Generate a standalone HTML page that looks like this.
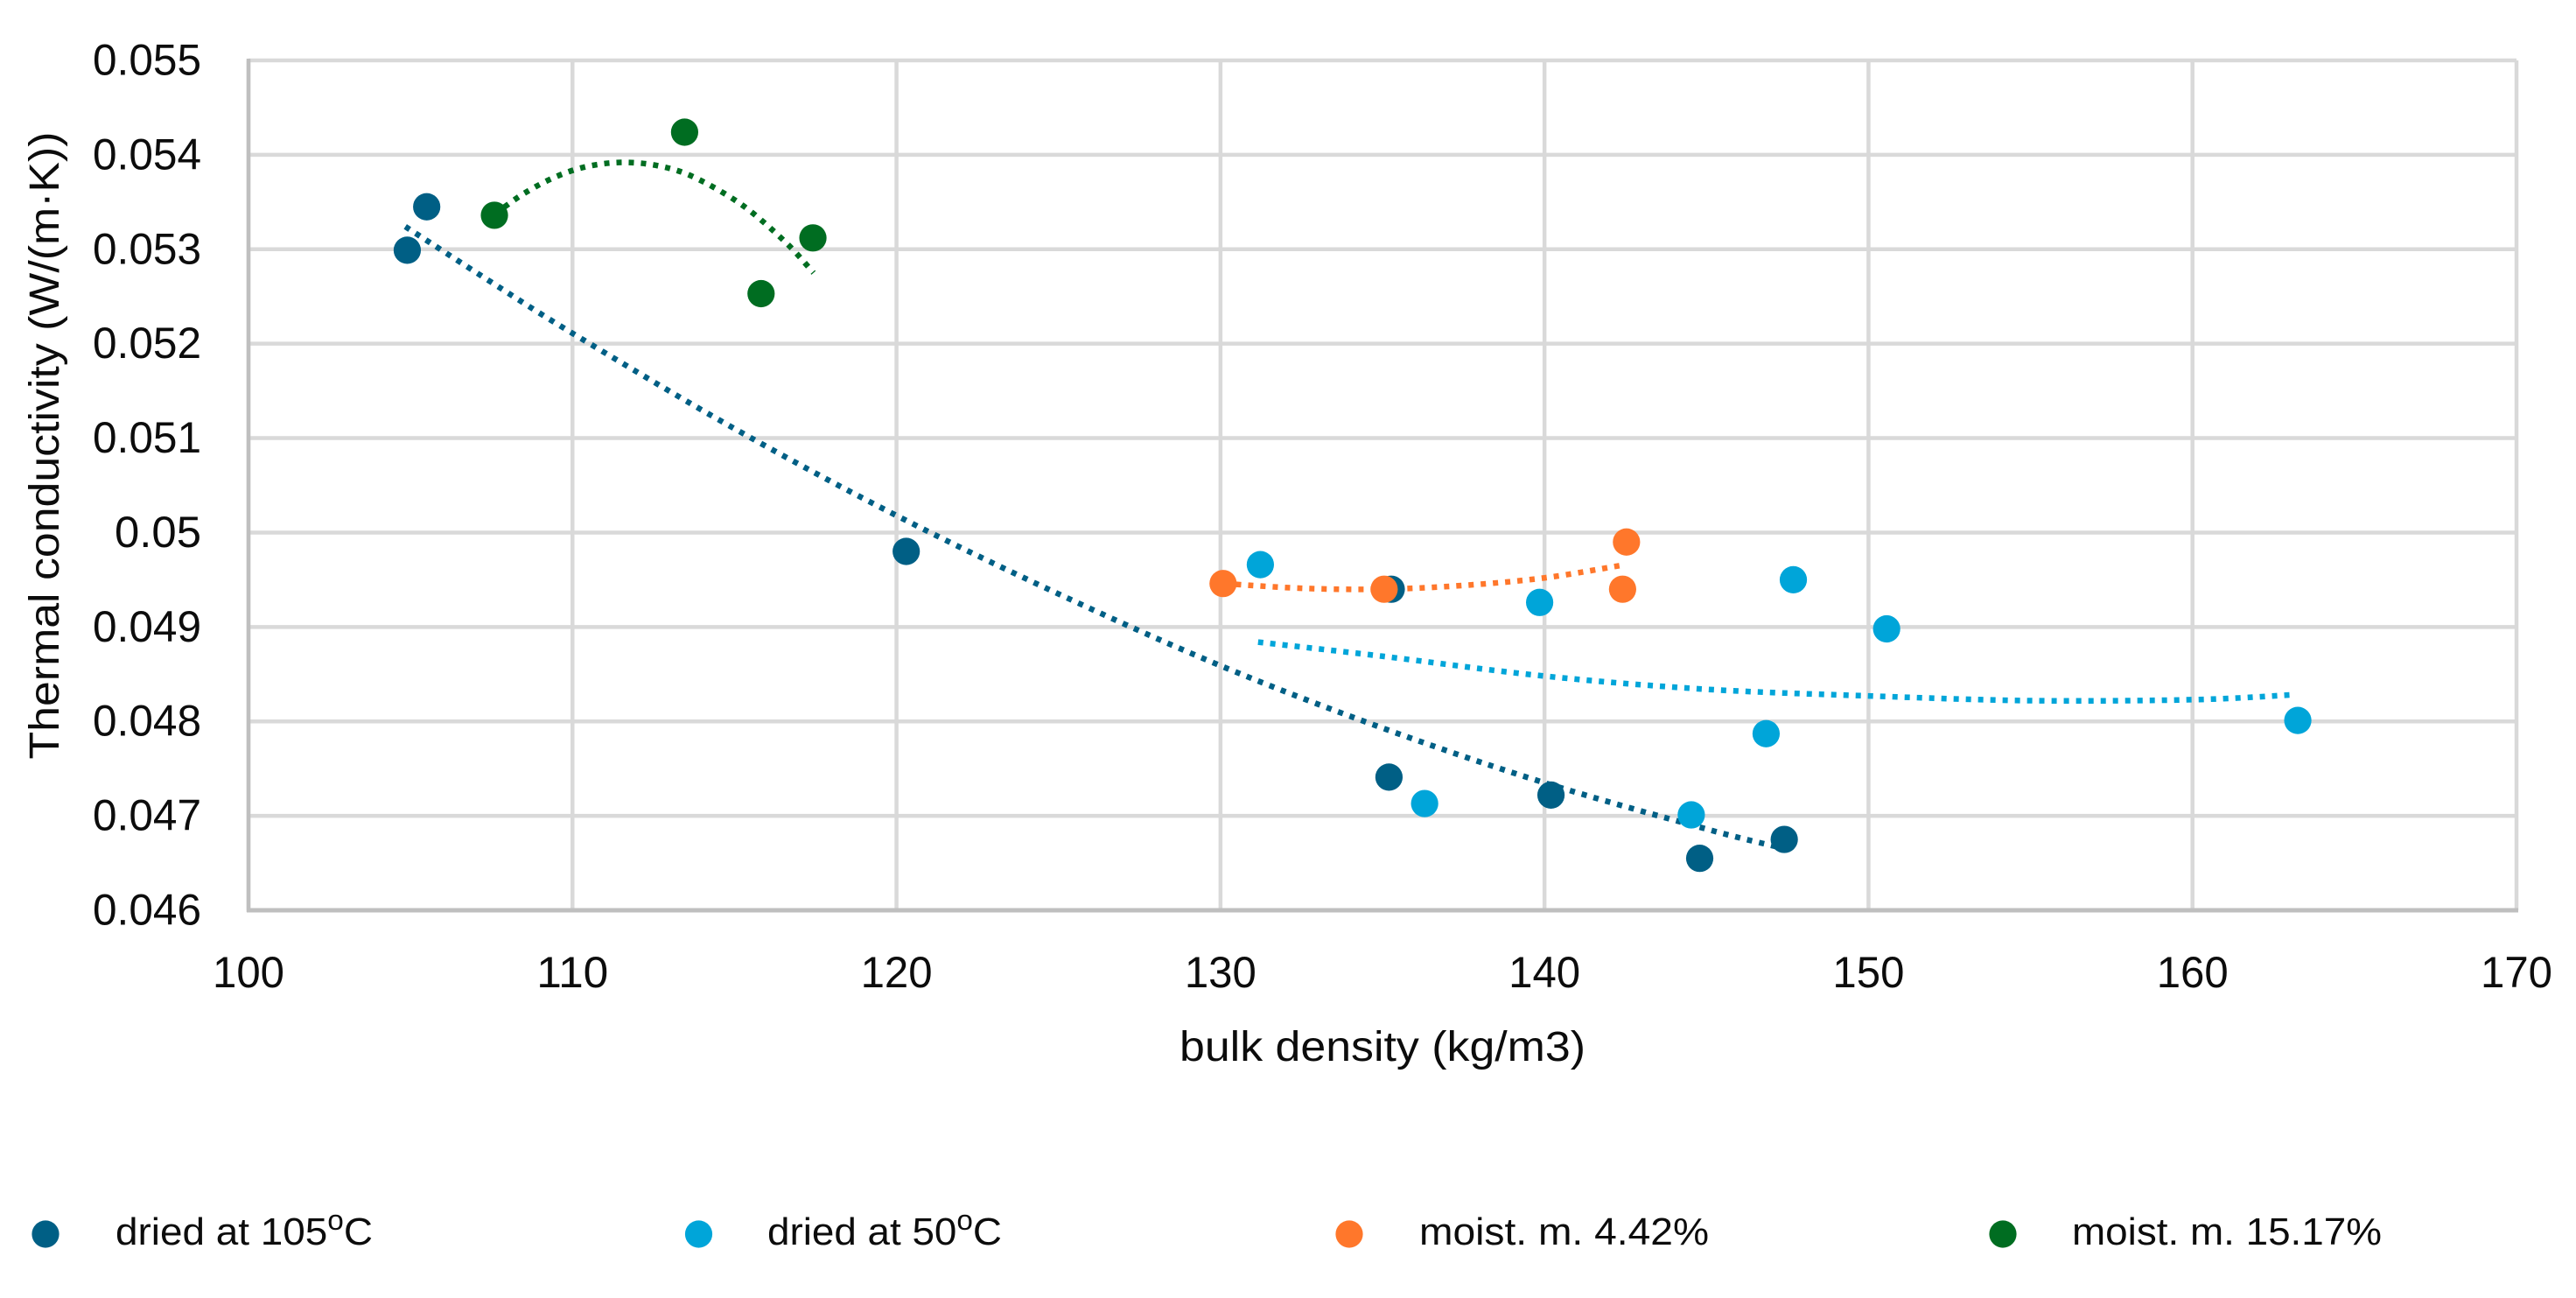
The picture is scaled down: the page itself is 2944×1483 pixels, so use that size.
<!DOCTYPE html>
<html lang="en">
<head>
<meta charset="utf-8">
<title>Thermal conductivity vs bulk density</title>
<style>
html,body{margin:0;padding:0;background:#fff;width:2944px;height:1483px;overflow:hidden}
svg{display:block}
text{font-family:"Liberation Sans",sans-serif;fill:#0c0c0c}
</style>
</head>
<body>
<svg id="chart" xmlns="http://www.w3.org/2000/svg" width="2944" height="1483" viewBox="0 0 2944 1483">
  <rect x="0" y="0" width="2944" height="1483" fill="#ffffff"/>
  <g id="grid"></g>
  <g id="axes"></g>
  <g id="trends"></g>
  <g id="points"></g>
  <text x="1580" y="1212" font-size="48" text-anchor="middle" textLength="464" lengthAdjust="spacingAndGlyphs">bulk density (kg/m3)</text>
  <text transform="translate(67,509) rotate(-90)" font-size="48" text-anchor="middle" textLength="717" lengthAdjust="spacingAndGlyphs">Thermal conductivity (W/(m·K))</text>
  <g>
    <g>
      <circle cx="52" cy="1410" r="15.6" fill="#005F85"/>
      <text x="132" y="1422" font-size="44" textLength="294" lengthAdjust="spacingAndGlyphs">dried at 105<tspan font-size="32" dy="-17">o</tspan><tspan dy="17">C</tspan></text>
    </g>
    <g>
      <circle cx="798.5" cy="1410" r="15.6" fill="#00A5D9"/>
      <text x="877" y="1422" font-size="44" textLength="268" lengthAdjust="spacingAndGlyphs">dried at 50<tspan font-size="32" dy="-17">o</tspan><tspan dy="17">C</tspan></text>
    </g>
    <g>
      <circle cx="1542" cy="1410" r="15.6" fill="#FF772B"/>
      <text x="1622" y="1422" font-size="44" textLength="331" lengthAdjust="spacingAndGlyphs">moist. m. 4.42%</text>
    </g>
    <g>
      <circle cx="2289" cy="1410" r="15.6" fill="#006D21"/>
      <text x="2368" y="1422" font-size="44" textLength="354" lengthAdjust="spacingAndGlyphs">moist. m. 15.17%</text>
    </g>
  </g>
</svg>
<script>
const xTicks = [100, 110, 120, 130, 140, 150, 160, 170];
const yTicks = [0.046, 0.047, 0.048, 0.049, 0.05, 0.051, 0.052, 0.053, 0.054, 0.055];
const yTickLabels = ['0.046', '0.047', '0.048', '0.049', '0.05', '0.051', '0.052', '0.053', '0.054', '0.055'];

const dried105X = [104.9, 105.5, 120.3, 135.27, 135.2, 140.2, 144.79, 147.4];
const dried105Y = [0.05299, 0.05345, 0.04980, 0.04940, 0.04741, 0.04722, 0.04655, 0.04675];
const dried50X = [131.23, 139.85, 147.68, 150.56, 146.84, 136.3, 144.53, 163.25];
const dried50Y = [0.04966, 0.04926, 0.04950, 0.04898, 0.04787, 0.04713, 0.04701, 0.04801];
const moist4X = [130.08, 135.05, 142.53, 142.41];
const moist4Y = [0.04946, 0.04940, 0.04990, 0.04940];
const moist15X = [107.59, 113.46, 115.82, 117.42];
const moist15Y = [0.05336, 0.05424, 0.05253, 0.05312];

const trend105X = [104.84, 107.5, 110, 115, 120, 125, 130, 135, 140, 145, 147.2];
const trend105Y = [0.05324, 0.05265, 0.05211, 0.0511, 0.05018, 0.04935, 0.04859, 0.04793, 0.04735, 0.04686, 0.04667];
const trend50X = [131.16, 135, 140, 145, 150, 155, 160, 163];
const trend50Y = [0.04884, 0.04869, 0.04848, 0.04834, 0.04827, 0.04822, 0.04823, 0.04828];
const trend4X = [130.1, 132.5, 135, 137.5, 140, 142.5];
const trend4Y = [0.04946, 0.04941, 0.0494, 0.04944, 0.04952, 0.04966];
const trend15X = [107.59, 108.5, 109.5, 110.5, 111.6, 112.7, 113.77, 115.23, 116.56, 117.44];
const trend15Y = [0.05337, 0.05359, 0.05377, 0.05388, 0.05392, 0.05388, 0.05376, 0.05347, 0.05308, 0.05275];

const NS = 'http://www.w3.org/2000/svg';
const xMin = 100, xMax = 170, yMin = 0.046, yMax = 0.055;
const left = 284, right = 2876, top_ = 69, bottom = 1040;
function sx(v) { return left + (v - xMin) / (xMax - xMin) * (right - left); }
function sy(v) { return bottom - (v - yMin) / (yMax - yMin) * (bottom - top_); }

function make(tag, parent, props) {
  const el = document.createElementNS(NS, tag);
  for (const k in props) el.setAttribute(k, props[k]);
  parent.appendChild(el);
  return el;
}

const grid = document.getElementById('grid');
const axes = document.getElementById('axes');
const trends = document.getElementById('trends');
const points = document.getElementById('points');

xTicks.forEach(function (t) {
  const line = make('line', grid, { x1: sx(t), x2: sx(t), y1: top_, y2: bottom, stroke: '#D9D9D9', 'stroke-width': 4.5 });
  
  
  const label = make('text', axes, { x: sx(t), y: 1128, 'font-size': 50, 'text-anchor': 'middle', textLength: 82, lengthAdjust: 'spacingAndGlyphs' });
  label.textContent = String(t);
  
  
});

yTicks.forEach(function (t, i) {
  const line = make('line', grid, { x1: left, x2: right, y1: sy(t), y2: sy(t), stroke: '#D9D9D9', 'stroke-width': 4.5 });
  
  
  const text = yTickLabels[i];
  const label = make('text', axes, { x: 230, y: sy(t) + 16.5, 'font-size': 50, 'text-anchor': 'end', textLength: text.length === 4 ? 99 : 124, lengthAdjust: 'spacingAndGlyphs' });
  label.textContent = text;
  
  
});

const xAxisLine = make('line', axes, { x1: left - 2, x2: right + 2, y1: bottom, y2: bottom, stroke: '#BFBFBF', 'stroke-width': 5 });


const yAxisLine = make('line', axes, { x1: left, x2: left, y1: top_ - 2, y2: bottom + 2, stroke: '#BFBFBF', 'stroke-width': 4.5 });



function smoothPath(xs, ys) {
  const p = xs.map(function (x, i) { return [sx(x), sy(ys[i])]; });
  let d = 'M' + p[0][0] + ' ' + p[0][1];
  for (let i = 0; i < p.length - 1; i++) {
    const a = p[Math.max(i - 1, 0)], b = p[i], c = p[i + 1], e = p[Math.min(i + 2, p.length - 1)];
    const c1x = b[0] + (c[0] - a[0]) / 6, c1y = b[1] + (c[1] - a[1]) / 6;
    const c2x = c[0] - (e[0] - b[0]) / 6, c2y = c[1] - (e[1] - b[1]) / 6;
    d += 'C' + c1x + ' ' + c1y + ' ' + c2x + ' ' + c2y + ' ' + c[0] + ' ' + c[1];
  }
  return d;
}

function drawTrend(xs, ys, color) {
  const path = make('path', trends, { d: smoothPath(xs, ys), fill: 'none', stroke: color, 'stroke-width': 6.5, 'stroke-dasharray': '6 8' });
  return path;
}

function drawPoints(xs, ys, color, group) {
  xs.forEach(function (x, i) {
    const dot = make('circle', group, { cx: sx(x), cy: sy(ys[i]), r: 15.6, fill: color });
    
    
  });
}

const t105 = drawTrend(trend105X, trend105Y, '#005F85');


const t50 = drawTrend(trend50X, trend50Y, '#00A5D9');


const t4 = drawTrend(trend4X, trend4Y, '#FF772B');


const t15 = drawTrend(trend15X, trend15Y, '#006D21');



drawPoints(dried105X, dried105Y, '#005F85', points);
drawPoints(dried50X, dried50Y, '#00A5D9', points);
drawPoints(moist4X, moist4Y, '#FF772B', points);
drawPoints(moist15X, moist15Y, '#006D21', points);
</script>
</body>
</html>
